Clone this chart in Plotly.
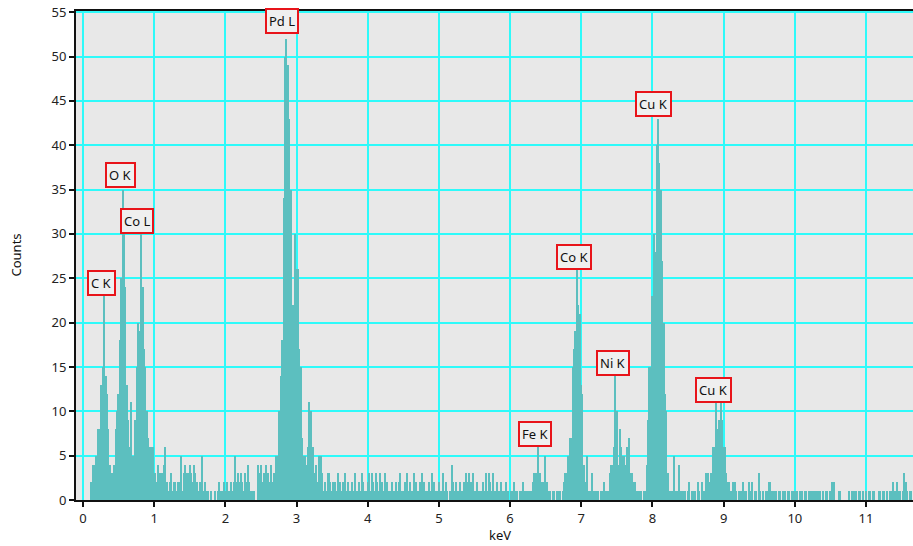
import numpy as np
import plotly.graph_objects as go

# EDS spectrum, 0.02 keV channels, counts per channel
bin_width_kev = 0.02
counts_0 = [0, 0, 0, 0, 0, 0, 2, 4, 4, 5,
            3, 8, 8, 13, 15, 23, 14, 12, 8, 4,
            3, 3, 4, 8, 10, 12, 18, 25, 35, 30,
            24, 13, 9, 6, 11, 5, 5, 9, 15, 20,
            19, 30, 24, 17, 15, 10, 7, 6, 6, 6]
counts_1 = [3, 3, 2, 4, 3, 0, 3, 4, 6, 2,
            1, 2, 3, 1, 2, 2, 1, 2, 2, 5,
            1, 3, 4, 3, 3, 4, 3, 2, 4, 3,
            2, 1, 2, 2, 5, 1, 2, 1, 1, 0,
            1, 0, 0, 1, 0, 1, 2, 1, 1, 2]
counts_2 = [1, 2, 1, 1, 2, 1, 2, 5, 2, 3,
            2, 3, 2, 1, 3, 2, 4, 2, 1, 1,
            1, 0, 0, 4, 3, 4, 2, 3, 2, 4,
            3, 2, 4, 2, 3, 2, 5, 5, 10, 14,
            18, 34, 50, 52, 49, 43, 35, 21, 22, 30]
counts_3 = [26, 26, 17, 15, 7, 5, 5, 4, 6, 11,
            10, 6, 6, 3, 4, 2, 5, 5, 3, 1,
            2, 1, 3, 3, 2, 1, 2, 2, 1, 3,
            1, 2, 1, 2, 3, 1, 2, 1, 1, 2,
            1, 3, 1, 1, 2, 1, 3, 2, 1, 1]
counts_4 = [2, 3, 1, 3, 2, 1, 3, 2, 1, 3,
            2, 1, 3, 1, 2, 1, 1, 2, 1, 1,
            2, 1, 2, 3, 1, 1, 2, 1, 3, 1,
            2, 1, 1, 3, 2, 1, 1, 2, 3, 1,
            2, 1, 1, 2, 1, 3, 1, 2, 1, 1]
counts_5 = [2, 1, 1, 3, 1, 2, 1, 0, 1, 4,
            2, 1, 2, 1, 1, 2, 1, 1, 2, 3,
            2, 3, 2, 2, 3, 1, 1, 2, 1, 1,
            1, 2, 1, 3, 1, 3, 2, 1, 3, 1,
            1, 2, 1, 1, 2, 1, 1, 2, 1, 1]
counts_6 = [0, 1, 1, 2, 1, 1, 0, 1, 1, 2,
            1, 1, 0, 1, 1, 1, 2, 3, 3, 3,
            6, 3, 2, 2, 1, 5, 2, 1, 1, 0,
            1, 1, 0, 1, 1, 1, 0, 1, 2, 3,
            3, 5, 7, 7, 15, 17, 19, 26, 22, 21]
counts_7 = [13, 12, 4, 2, 5, 1, 1, 1, 3, 1,
            1, 1, 1, 0, 1, 1, 2, 1, 1, 1,
            3, 4, 4, 6, 14, 10, 4, 8, 6, 5,
            5, 4, 6, 5, 7, 3, 3, 2, 2, 1,
            1, 1, 1, 0, 1, 1, 4, 9, 15, 15]
counts_8 = [23, 30, 28, 40, 43, 38, 35, 27, 20, 12,
            10, 3, 1, 1, 1, 5, 1, 1, 1, 4,
            1, 1, 1, 1, 0, 1, 2, 0, 1, 1,
            1, 0, 2, 1, 0, 2, 1, 1, 3, 3,
            2, 3, 3, 6, 6, 11, 8, 9, 11, 9]
counts_9 = [6, 6, 3, 2, 2, 1, 1, 2, 2, 1,
            0, 1, 1, 0, 2, 1, 1, 0, 2, 1,
            2, 0, 1, 1, 0, 3, 1, 0, 1, 0,
            1, 1, 2, 2, 1, 1, 1, 1, 0, 1,
            1, 0, 1, 1, 0, 1, 1, 0, 1, 1]
counts_10 = [1, 0, 1, 0, 1, 1, 0, 1, 1, 0,
             1, 1, 1, 1, 1, 0, 1, 1, 1, 0,
             1, 0, 1, 1, 0, 1, 2, 0, 2, 0,
             0, 1, 1, 0, 0, 0, 0, 0, 1, 0,
             1, 1, 1, 1, 0, 1, 1, 0, 1, 0]
counts_11 = [1, 0, 1, 1, 0, 1, 1, 0, 0, 1,
             1, 0, 1, 1, 0, 1, 0, 1, 1, 2,
             1, 1, 2, 1, 1, 0, 1, 3, 2, 1,
             0, 1, 1]

# peak labels: text, label-box centre (keV, counts)
peak_labels = ["C K", "O K", "Co L", "Pd L", "Fe K", "Co K", "Ni K", "Cu K", "Cu K"]
label_kev = [0.258, 0.533, 0.757, 2.80, 6.35, 6.90, 7.44, 8.01, 8.864]
label_counts = [24.5, 36.6, 31.5, 54.0, 7.4, 27.4, 15.4, 44.6, 12.4]

x_ticks = list(range(0, 12))
y_ticks = list(range(0, 60, 5))

counts = (counts_0 + counts_1 + counts_2 + counts_3 + counts_4 + counts_5 +
          counts_6 + counts_7 + counts_8 + counts_9 + counts_10 + counts_11)
energy = np.round(np.arange(len(counts)) * bin_width_kev, 3)

FONT = "Noto Sans"
GRID = "#2EFAFA"

fig = go.Figure()
fig.add_trace(go.Bar(
    x=energy, y=counts, width=bin_width_kev,
    marker=dict(color="#5CBFBF", line=dict(width=0)),
    hoverinfo="x+y", showlegend=False,
))

annotations = []
for t, xk, yc in zip(peak_labels, label_kev, label_counts):
    annotations.append(dict(
        x=xk, y=yc, xref="x", yref="y", text=t, showarrow=False,
        font=dict(family=FONT, size=13, color="#111111"),
        bgcolor="#EFEFEF", bordercolor="#E8141A", borderwidth=2, borderpad=2,
        xanchor="center", yanchor="middle",
    ))
annotations.append(dict(
    x=(500 - 76) / 837, y=(500 - 535) / 489, xref="paper", yref="paper",
    text="keV", showarrow=False, xanchor="center", yanchor="middle",
    font=dict(family=FONT, size=13, color="#111111"),
))
annotations.append(dict(
    x=(15 - 76) / 837, y=0.5, xref="paper", yref="paper",
    text="Counts", showarrow=False, textangle=-90,
    xanchor="center", yanchor="middle",
    font=dict(family=FONT, size=13, color="#111111"),
))

fig.update_layout(
    width=913, height=546,
    margin=dict(l=76, r=0, t=11, b=46),
    paper_bgcolor="white", plot_bgcolor="#E8E8E8",
    bargap=0, annotations=annotations,
    font=dict(family=FONT, size=13, color="#222222"),
    xaxis=dict(
        range=[-0.098, 11.66], tickvals=x_ticks, ticktext=[str(v) for v in x_ticks],
        showgrid=True, gridcolor=GRID, gridwidth=2, zeroline=False,
        showline=True, linecolor="#111111", linewidth=2, mirror=True,
        ticks="outside", ticklen=5, tickwidth=1.5, tickcolor="#111111",
        tickfont=dict(family=FONT, size=13, color="#222222"),
    ),
    yaxis=dict(
        range=[0, 55.13], tickvals=y_ticks, ticktext=[str(v) for v in y_ticks],
        showgrid=True, gridcolor=GRID, gridwidth=2, zeroline=False,
        showline=True, linecolor="#111111", linewidth=2,
        ticks="outside", ticklen=5, tickwidth=1.5, tickcolor="#111111",
        tickfont=dict(family=FONT, size=13, color="#222222"),
    ),
)

fig.write_html("out.html")
